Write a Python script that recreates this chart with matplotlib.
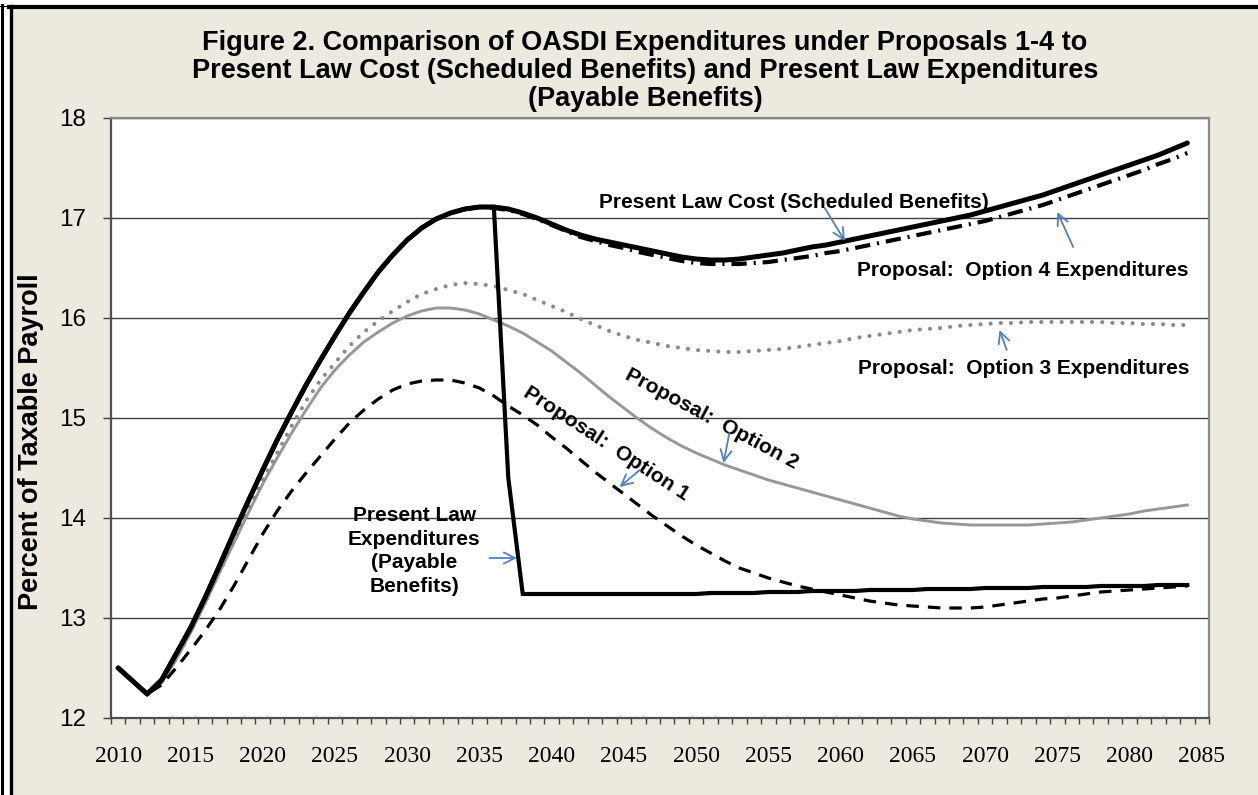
import matplotlib
matplotlib.use('Agg')
import matplotlib.pyplot as plt
from matplotlib.lines import Line2D
from matplotlib.patches import Rectangle
import numpy as np

# ---------------- data ----------------
years = list(range(2010, 2085))

present_law_cost = [
    12.50, 12.37, 12.24, 12.38, 12.64, 12.90, 13.20, 13.52, 13.85, 14.17,
    14.48, 14.78, 15.06, 15.33, 15.58, 15.82, 16.05, 16.26, 16.46, 16.63,
    16.78, 16.90, 16.99, 17.05, 17.09, 17.11, 17.11, 17.09, 17.05, 17.00,
    16.94, 16.88, 16.83, 16.79, 16.76, 16.73, 16.70, 16.67, 16.64, 16.61,
    16.59, 16.58, 16.58, 16.59, 16.61, 16.63, 16.65, 16.68, 16.71, 16.73,
    16.76, 16.79, 16.82, 16.85, 16.88, 16.91, 16.94, 16.97, 17.00, 17.03,
    17.07, 17.11, 17.15, 17.19, 17.23, 17.28, 17.33, 17.38, 17.43, 17.48,
    17.53, 17.58, 17.63, 17.69, 17.75]

present_law_payable = [
    12.50, 12.37, 12.24, 12.38, 12.64, 12.90, 13.20, 13.52, 13.85, 14.17,
    14.48, 14.78, 15.06, 15.33, 15.58, 15.82, 16.05, 16.26, 16.46, 16.63,
    16.78, 16.90, 16.99, 17.05, 17.09, 17.11, 17.11, 14.40, 13.24, 13.24,
    13.24, 13.24, 13.24, 13.24, 13.24, 13.24, 13.24, 13.24, 13.24, 13.24,
    13.24, 13.25, 13.25, 13.25, 13.25, 13.26, 13.26, 13.26, 13.27, 13.27,
    13.27, 13.27, 13.28, 13.28, 13.28, 13.28, 13.29, 13.29, 13.29, 13.29,
    13.30, 13.30, 13.30, 13.30, 13.31, 13.31, 13.31, 13.31, 13.32, 13.32,
    13.32, 13.32, 13.33, 13.33, 13.33]

option1 = [
    12.50, 12.37, 12.24, 12.33, 12.50, 12.68, 12.87, 13.08, 13.32, 13.58,
    13.84, 14.07, 14.27, 14.45, 14.62, 14.79, 14.95, 15.08, 15.19, 15.28,
    15.34, 15.37, 15.38, 15.38, 15.35, 15.30, 15.22, 15.12, 15.03, 14.93,
    14.81, 14.70, 14.58, 14.46, 14.35, 14.24, 14.13, 14.02, 13.92, 13.82,
    13.73, 13.65, 13.57, 13.50, 13.45, 13.40, 13.36, 13.32, 13.29, 13.26,
    13.23, 13.20, 13.17, 13.15, 13.13, 13.12, 13.11, 13.10, 13.10, 13.10,
    13.11, 13.13, 13.15, 13.17, 13.19, 13.20, 13.22, 13.24, 13.26, 13.27,
    13.28, 13.29, 13.30, 13.31, 13.32]

option2 = [
    12.50, 12.37, 12.24, 12.35, 12.58, 12.85, 13.14, 13.45, 13.75, 14.05,
    14.34, 14.60, 14.85, 15.08, 15.30, 15.48, 15.63, 15.76, 15.86, 15.95,
    16.02, 16.07, 16.10, 16.10, 16.08, 16.04, 15.98, 15.92, 15.85, 15.76,
    15.67, 15.56, 15.45, 15.33, 15.21, 15.10, 14.99, 14.89, 14.80, 14.72,
    14.65, 14.59, 14.53, 14.48, 14.43, 14.38, 14.34, 14.30, 14.26, 14.22,
    14.18, 14.14, 14.10, 14.06, 14.02, 13.99, 13.97, 13.95, 13.94, 13.93,
    13.93, 13.93, 13.93, 13.93, 13.94, 13.95, 13.96, 13.98, 14.00, 14.02,
    14.04, 14.07, 14.09, 14.11, 14.13]

option3 = [
    12.50, 12.37, 12.24, 12.36, 12.60, 12.87, 13.16, 13.47, 13.78, 14.08,
    14.38, 14.65, 14.92, 15.17, 15.38, 15.55, 15.72, 15.86, 15.97, 16.07,
    16.16, 16.24, 16.29, 16.33, 16.35, 16.34, 16.32, 16.28, 16.24, 16.18,
    16.12, 16.06, 15.99, 15.93, 15.87, 15.82, 15.78, 15.75, 15.72, 15.70,
    15.68, 15.67, 15.66, 15.66, 15.67, 15.68, 15.69, 15.71, 15.73, 15.75,
    15.77, 15.80, 15.82, 15.84, 15.86, 15.88, 15.89, 15.90, 15.92, 15.93,
    15.94, 15.95, 15.95, 15.96, 15.96, 15.96, 15.96, 15.96, 15.96, 15.95,
    15.95, 15.94, 15.94, 15.93, 15.93]

option4 = [
    12.50, 12.37, 12.24, 12.38, 12.64, 12.90, 13.20, 13.52, 13.85, 14.17,
    14.48, 14.78, 15.06, 15.33, 15.58, 15.82, 16.05, 16.26, 16.46, 16.63,
    16.78, 16.90, 16.99, 17.05, 17.09, 17.11, 17.10, 17.08, 17.04, 16.99,
    16.93, 16.87, 16.81, 16.77, 16.73, 16.70, 16.66, 16.63, 16.60, 16.57,
    16.55, 16.54, 16.54, 16.54, 16.55, 16.56, 16.58, 16.60, 16.62, 16.65,
    16.67, 16.70, 16.73, 16.76, 16.79, 16.82, 16.85, 16.88, 16.91, 16.94,
    16.97, 17.01, 17.05, 17.09, 17.13, 17.18, 17.23, 17.28, 17.33, 17.38,
    17.43, 17.48, 17.54, 17.59, 17.65]

x_tick_years = list(range(2010, 2086, 5))
x_tick_labels = [str(y) for y in x_tick_years]
y_ticks = [12, 13, 14, 15, 16, 17, 18]

title = ("Figure 2. Comparison of OASDI Expenditures under Proposals 1-4 to\n"
         "Present Law Cost (Scheduled Benefits) and Present Law Expenditures\n"
         "(Payable Benefits)")

# ---------------- figure ----------------
W, H = 1258, 795
plt.rcParams['lines.scale_dashes'] = False
fig = plt.figure(figsize=(W / 100, H / 100), dpi=100)
fig.patch.set_facecolor('#ECE9DF')

def fx(px):
    return px / W

def fy(py):
    return 1 - py / H

# outer frame
fig.add_artist(Rectangle((0, fy(5)), 1, 5 / H, transform=fig.transFigure,
                         facecolor='white', edgecolor='none'))
fig.add_artist(Rectangle((0, 0), 13 / W, 1, transform=fig.transFigure,
                         facecolor='white', edgecolor='none'))
fig.add_artist(Line2D([fx(1.5), fx(1.5)], [fy(5), 0], transform=fig.transFigure,
                      color='black', lw=2.2))
fig.add_artist(Line2D([fx(0), fx(6)], [fy(5.5), fy(5.5)], transform=fig.transFigure,
                      color='black', lw=0.8))
fig.add_artist(Line2D([fx(10.5), fx(10.5)], [fy(6), 0], transform=fig.transFigure,
                      color='black', lw=2.4))
fig.add_artist(Line2D([fx(9), 1], [fy(7), fy(7)], transform=fig.transFigure,
                      color='black', lw=3.0))

ax = fig.add_axes([fx(111), fy(718), (1209 - 111) / W, (718 - 118) / H])
ax.set_facecolor('white')

# series
ax.plot(years, option2, color='#979797', lw=2.1, zorder=3)
ax.plot(years, option3, color='#8a8a8a', lw=3.0, dashes=(0.01, 7.3),
        dash_capstyle='round', zorder=3)
l1, = ax.plot(years, option1, color='black', lw=2.3, zorder=4)
l1.set_dashes((9, 6.5))
l4, = ax.plot(years, option4, color='black', lw=3.0, zorder=4)
l4.set_dashes((11, 5, 1.5, 5))
ax.plot(years, present_law_cost, color='black', lw=3.6, zorder=5,
        solid_capstyle='round')
ax.plot(years, present_law_payable, color='black', lw=3.0, zorder=5,
        solid_joinstyle='miter')

# axes styling
ax.set_xlim(2009.5, 2085.5)
ax.set_ylim(12, 18)
ax.set_yticks(y_ticks)
ax.set_yticklabels([str(v) for v in y_ticks], fontsize=17.5,
                   fontfamily='Liberation Sans')
ax.set_xticks(x_tick_years)
ax.set_xticklabels(x_tick_labels, fontsize=17, fontfamily='Liberation Serif')
ax.set_xticks(np.arange(2009.5, 2086, 1), minor=True)
ax.tick_params(axis='x', which='major', length=0, pad=20)
ax.tick_params(axis='x', which='minor', length=4, width=1.0, color='#404040')
ax.tick_params(axis='y', which='major', length=6, width=1.0, color='#404040', pad=12)
ax.grid(axis='y', color='#404040', lw=1.0, zorder=1)
ax.set_axisbelow(True)
for s in ['left', 'bottom']:
    ax.spines[s].set_color('#505050')
    ax.spines[s].set_linewidth(1.6)
for s in ['top', 'right']:
    ax.spines[s].set_color('#888888')
    ax.spines[s].set_linewidth(1.6)

ax.set_ylabel('Percent of Taxable Payroll', fontsize=19.5, fontweight='bold',
              fontfamily='Liberation Sans')
ax.yaxis.set_label_coords((44 - 111) / 1098, (718 - 442) / 600)

fig.text(fx(645), fy(71), title, ha='center', va='center', fontsize=19.5,
         fontweight='bold', fontfamily='Liberation Sans', linespacing=1.1)

# annotations
afont = dict(fontsize=15, fontweight='bold', fontfamily='Liberation Sans',
             color='black', zorder=6)
ax.text(2056.8, 17.16, 'Present Law Cost (Scheduled Benefits)', ha='center',
        va='center', **afont)
ax.text(2072.6, 16.48, 'Proposal:  Option 4 Expenditures', ha='center',
        va='center', **afont)
ax.text(2072.7, 15.49, 'Proposal:  Option 3 Expenditures', ha='center',
        va='center', **afont)
ax.text(2051.1, 14.99, 'Proposal:  Option 2', ha='center', va='center',
        rotation=-28, rotation_mode='anchor', **afont)
ax.text(2043.8, 14.74, 'Proposal:  Option 1', ha='center', va='center',
        rotation=-33, rotation_mode='anchor', **afont)
ax.text(2030.5, 13.67, 'Present Law\nExpenditures\n(Payable\nBenefits)',
        ha='center', va='center', linespacing=1.3, **afont)

arrow = dict(arrowstyle='->', color='#4F81BD', lw=1.3, mutation_scale=20,
             shrinkA=0, shrinkB=0)
ax.annotate('', xy=(2060.3, 16.77), xytext=(2058.9, 17.10), arrowprops=arrow, zorder=6)
ax.annotate('', xy=(2075.0, 17.06), xytext=(2076.1, 16.71), arrowprops=arrow, zorder=6)
ax.annotate('', xy=(2071.0, 15.88), xytext=(2071.5, 15.68), arrowprops=arrow, zorder=6)
ax.annotate('', xy=(2051.9, 14.55), xytext=(2052.3, 14.85), arrowprops=arrow, zorder=6)
ax.annotate('', xy=(2044.7, 14.31), xytext=(2046.1, 14.48), arrowprops=arrow, zorder=6)
ax.annotate('', xy=(2037.6, 13.60), xytext=(2035.7, 13.60), arrowprops=arrow, zorder=6)

fig.savefig('out.png', dpi=100, facecolor=fig.get_facecolor())
